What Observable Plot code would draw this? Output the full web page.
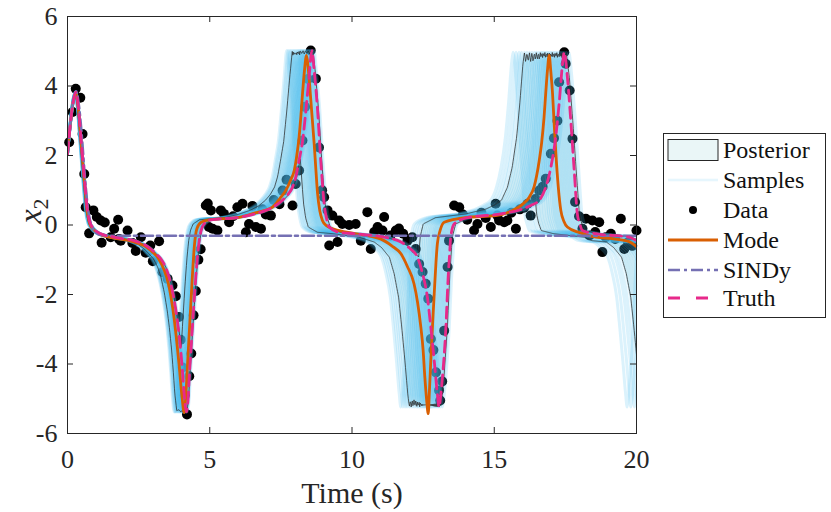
<!DOCTYPE html>
<html><head><meta charset="utf-8">
<script src="https://cdn.jsdelivr.net/npm/d3@7"></script>
<script src="https://cdn.jsdelivr.net/npm/@observablehq/plot@0.6"></script>
<style>
body{margin:0;background:#fff;}
#wrap{position:relative;width:831px;height:512px;font-family:"Liberation Serif","DejaVu Serif",serif;}
#wrap svg{position:absolute;left:0;top:0;}
#wrap svg text{font-family:"Liberation Serif","DejaVu Serif",serif !important;}
</style></head><body><div id="wrap"></div>
<script>
// ---- Truth trajectory (x2); extended a little past 20 s
const truthT = [0,0.1,0.2,0.29,0.38,0.47,0.59,0.7,0.8,0.88,1.0,1.11,1.64,2.34,2.7,2.93,3.1,3.28,3.45,3.57,3.7,3.81,3.9,3.98,4.05,4.1,4.18,4.24,4.28,4.34,4.39,4.45,4.51,4.57,4.63,4.7,4.8,5.04,6.03,6.5,6.97,7.3,7.56,7.75,7.91,8.03,8.14,8.26,8.38,8.49,8.59,8.67,8.79,8.9,8.96,9.02,9.1,9.2,9.55,10.13,11.13,11.72,12.0,12.3,12.48,12.65,12.77,12.89,13.0,13.06,13.12,13.18,13.3,13.38,13.43,13.47,13.59,14.06,15.23,15.99,16.3,16.58,16.81,16.99,17.16,17.28,17.4,17.46,17.57,17.69,17.81,17.92,18.0,18.1,18.57,19.74,20.03,20.3,20.59,20.87,21.17,21.35,21.52,21.64,21.76,21.87,21.93,21.99,22.05,22.17,22.25,22.3,22.34,22.46,22.93];
const truthV = [2.05,2.9,3.55,3.82,3.4,2.53,1.38,0.42,0.05,-0.06,-0.17,-0.23,-0.35,-0.45,-0.56,-0.69,-0.82,-0.97,-1.22,-1.5,-1.95,-2.46,-3.0,-3.61,-4.3,-4.86,-5.38,-5.0,-4.38,-3.6,-2.94,-2.2,-1.5,-0.9,-0.45,-0.15,0.03,0.15,0.22,0.3,0.42,0.55,0.71,0.88,1.09,1.4,1.86,2.4,3.3,4.25,5.02,4.45,3.3,1.86,1.2,0.61,0.2,-0.06,-0.21,-0.25,-0.35,-0.49,-0.65,-0.93,-1.4,-2.08,-2.94,-3.9,-4.86,-5.24,-4.9,-4.38,-2.94,-1.5,-0.85,-0.35,0.03,0.21,0.32,0.46,0.57,0.71,1.09,1.66,2.53,3.49,4.64,4.97,4.25,3.0,1.57,0.32,0.05,-0.16,-0.25,-0.35,-0.45,-0.47,-0.49,-0.65,-0.93,-1.4,-2.08,-2.94,-3.9,-4.86,-5.24,-4.9,-4.38,-2.94,-1.5,-0.85,-0.35,0.03,0.2];

// ---- Posterior mode
const modeT = [0,0.1,0.2,0.29,0.38,0.47,0.59,0.7,0.8,0.9,1.1,1.6,2.3,2.7,2.9,3.2,3.4,3.55,3.7,3.82,3.92,4.02,4.1,4.16,4.22,4.3,4.38,4.46,4.55,4.7,5.0,6.03,6.6,7.2,7.5,7.67,7.85,7.97,8.06,8.14,8.2,8.26,8.33,8.4,8.45,8.49,8.58,8.67,8.73,8.79,8.87,8.96,9.1,9.55,10.1,11.0,11.4,11.72,11.95,12.18,12.3,12.42,12.5,12.56,12.62,12.68,12.72,12.77,12.83,12.89,12.95,13.0,13.1,13.24,14.06,15.05,15.6,16.0,16.23,16.4,16.58,16.67,16.75,16.81,16.87,16.93,16.99,17.05,17.1,17.16,17.25,17.34,17.45,17.57,18.0,18.57,19.2,19.74,20.05];
const modeV = [2.05,2.9,3.55,3.8,3.35,2.45,1.3,0.35,0.0,-0.12,-0.25,-0.37,-0.48,-0.6,-0.72,-0.97,-1.3,-1.7,-2.4,-3.2,-4.0,-4.9,-5.4,-4.9,-4.0,-2.8,-1.6,-0.6,-0.1,0.08,0.15,0.22,0.35,0.51,0.8,0.99,1.3,1.57,2.0,2.53,3.1,3.77,4.45,4.88,4.6,4.25,3.3,2.34,1.6,0.9,0.4,0.13,-0.02,-0.16,-0.25,-0.4,-0.6,-0.83,-1.2,-1.69,-2.2,-2.94,-3.6,-4.38,-5.0,-5.43,-4.8,-3.9,-2.9,-1.98,-1.1,-0.54,-0.15,0.08,0.22,0.27,0.4,0.6,0.8,1.1,1.85,2.4,3.1,3.8,4.45,4.88,4.4,3.77,3.0,2.14,1.1,0.42,0.1,-0.06,-0.22,-0.35,-0.4,-0.48,-0.66];

// ---- SINDy model
const sindyT = [0,0.1,0.2,0.3,0.4,0.5,0.6,0.7,0.8,0.9,1.0,1.2,1.5,20];
const sindyV = [2.05,2.9,3.55,3.85,3.45,2.6,1.5,0.6,0.1,-0.12,-0.22,-0.29,-0.31,-0.31];

// ---- Posterior samples: each sample follows the truth shape at its own period ratio
const sampleScales = [0.897,0.903,0.909,0.914,0.92,0.925,0.93,0.935,0.94,0.944,0.948,0.952,0.955,0.958,0.961,0.964,0.967,0.97,0.973,0.976,0.979,0.982,0.985,0.988,0.991,0.994,0.997,1.0,1.004,1.009];
const posteriorRange = [0.918, 1.004];

// ---- Noisy data
const dataT = [0.06,0.18,0.29,0.45,0.53,0.59,0.64,0.76,0.91,1.03,1.17,1.2,1.31,1.52,1.64,1.78,1.81,1.87,2.11,2.28,2.4,2.58,2.75,2.81,2.91,3.0,3.22,3.34,3.52,3.69,3.81,3.92,3.98,4.05,4.12,4.2,4.28,4.35,4.43,4.51,4.6,4.68,4.86,4.93,4.97,5.04,5.1,5.27,5.39,5.5,5.68,5.82,5.97,6.15,6.27,6.38,6.5,6.62,6.8,6.85,6.97,7.15,7.25,7.45,7.56,7.7,7.91,8.02,8.14,8.26,8.35,8.45,8.55,8.73,8.84,8.95,9.02,9.14,9.2,9.31,9.49,9.55,9.66,9.9,10.13,10.31,10.54,10.66,10.78,10.9,11.07,11.13,11.35,11.54,11.65,11.8,11.95,12.12,12.24,12.36,12.48,12.59,12.68,12.77,12.86,12.95,13.06,13.1,13.17,13.24,13.36,13.41,13.59,13.77,13.9,14.05,14.29,14.41,14.55,14.7,14.88,15.05,15.11,15.17,15.35,15.46,15.6,15.76,15.9,16.05,16.17,16.28,16.45,16.58,16.7,16.81,16.99,17.1,17.22,17.28,17.46,17.51,17.65,17.75,17.84,17.98,18.1,18.22,18.35,18.45,18.55,18.69,18.8,18.92,19.1,19.25,19.45,19.57,19.7,19.85,20.0];
const dataV = [2.38,3.25,3.92,3.66,2.62,1.47,0.51,-0.24,0.42,0.23,0.13,-0.51,0.07,-0.35,-0.11,0.15,-0.4,-0.45,-0.16,-0.52,-0.75,-0.35,-0.8,-0.78,-0.59,-1.04,-0.47,-1.36,-1.55,-1.74,-2.05,-2.65,-3.3,-4.1,-4.9,-5.45,-4.35,-3.7,-2.6,-1.9,-1.0,-0.7,0.56,0.62,-0.06,0.42,-0.11,-0.16,0.42,0.32,0.08,0.25,0.51,0.61,-0.21,0.03,0.55,-0.06,-0.11,0.45,0.3,0.27,0.72,0.6,0.99,1.3,0.56,1.18,1.57,2.43,3.4,4.2,5.02,4.21,2.23,1.0,0.8,0.42,-0.59,0.27,-0.49,0.13,0.03,0.0,0.03,-0.45,0.37,-0.69,-0.2,-0.06,-0.16,0.23,-0.3,-0.16,-0.1,-0.25,-0.45,-0.35,-0.69,-1.12,-1.35,-1.69,-2.12,-3.28,-3.6,-4.24,-4.76,-5.05,-4.5,-3.04,-1.21,-0.45,0.56,0.51,0.3,0.15,-0.16,0.03,0.35,0.2,-0.06,0.61,0.27,0.13,0.08,0.13,0.35,-0.11,0.45,0.5,0.61,0.27,0.75,0.99,1.1,1.33,2.05,2.5,3.0,4.11,4.97,4.64,3.87,2.48,0.66,0.25,-0.11,0.18,-0.3,0.13,-0.2,0.08,-0.78,-0.35,-0.25,-0.4,0.18,-0.69,-0.5,-0.6,-0.16];

const xTicks = [0,5,10,15,20];
const yTicks = [-6,-4,-2,0,2,4,6];

// ---- Colours / styles
const C = {mode:"#D95F02", sindy:"#7570B3", truth:"#E7298A", sample:"#4DBEEE", postFill:"#eaf6f7", postEdge:"#2a2a2a", data:"#000"};
const FONT = '"Liberation Serif", "DejaVu Serif", "Times New Roman", serif';
const W=831, H=512, mL=67, mR=195, mT=16, mB=79;
const iw = W-mL-mR, ih = H-mT-mB;

// ---- Build tables
const zip = (ts, vs) => ts.map((t,i)=>({t, v:vs[i]}));
const truth = zip(truthT, truthV).filter(d=>d.t<=20.3);
const mode = zip(modeT, modeV);
const sindy = zip(sindyT, sindyV);
const data = zip(dataT, dataV);
const samples = sampleScales.flatMap((s,k)=> truthT.map((t,i)=>({k, t:t*s, v:truthV[i]})));
function lerp(ts, vs, t){
  if (t<=ts[0]) return vs[0];
  const i = d3.bisectRight(ts, t);
  if (i>=ts.length) return vs[vs.length-1];
  const f=(t-ts[i-1])/(ts[i]-ts[i-1]);
  return vs[i-1]+f*(vs[i]-vs[i-1]);
}
const core = sampleScales.filter(s=>s>=posteriorRange[0] && s<=posteriorRange[1]);
const post = d3.range(0, 20.0001, 0.02).map(t=>{
  const vals = core.map(s=>lerp(truthT, truthV, t/s));
  return {t, lo:d3.min(vals), hi:d3.max(vals)};
});

const plot = Plot.plot({
  width: W, height: H,
  marginLeft: mL, marginRight: mR, marginTop: mT, marginBottom: mB,
  style: {fontFamily: FONT, background: "transparent", overflow: "visible"},
  x: {domain:[0,20], label:null},
  y: {domain:[-6,6], label:null},
  marks: [
    Plot.areaY(post, {x:"t", y1:"lo", y2:"hi", fill:C.postFill, curve:"linear"}),
    Plot.dot(data, {x:"t", y:"v", r:5, fill:C.data, stroke:"none"}),
    Plot.line(samples, {x:"t", y:"v", z:"k", stroke:C.sample, strokeOpacity:0.2, strokeWidth:3, curve:"monotone-x", clip:true}),
    Plot.line(post, {x:"t", y:"hi", stroke:C.postEdge, strokeWidth:0.75}),
    Plot.line(post, {x:"t", y:"lo", stroke:C.postEdge, strokeWidth:0.75}),
    Plot.line(mode, {x:"t", y:"v", stroke:C.mode, strokeWidth:2.8, curve:"monotone-x", clip:true}),
    Plot.line(sindy, {x:"t", y:"v", stroke:C.sindy, strokeWidth:2.6, strokeDasharray:"12,4,3,4", curve:"monotone-x", clip:true}),
    Plot.line(truth, {x:"t", y:"v", stroke:C.truth, strokeWidth:2.8, strokeDasharray:"11,6", curve:"monotone-x", clip:true}),
    Plot.frame({stroke:"#262626", strokeWidth:1}),
    Plot.tickX(xTicks.slice(1,-1), {x:d=>d, stroke:"#262626", insetTop: ih-6}),
    Plot.tickX(xTicks.slice(1,-1), {x:d=>d, stroke:"#262626", insetBottom: ih-6}),
    Plot.tickY(yTicks.slice(1,-1), {y:d=>d, stroke:"#262626", insetRight: iw-6}),
    Plot.tickY(yTicks.slice(1,-1), {y:d=>d, stroke:"#262626", insetLeft: iw-6}),
    Plot.axisX(xTicks, {tickSize:0, tickPadding:16, fontSize:26, fill:"#262626", label:null, tickFormat:d=>String(d)}),
    Plot.axisY(yTicks, {tickSize:0, tickPadding:10, fontSize:26, fill:"#262626", label:null, tickFormat:d=>String(d)})
  ]
});
document.getElementById("wrap").appendChild(plot);

// axis labels
const svg = d3.select(plot);
svg.append("text").attr("x", 352).attr("y", 503).attr("text-anchor","middle")
  .style("font-family", FONT).attr("font-size", 30).attr("fill","#262626").text("Time (s)");
const yl = svg.append("text").attr("transform","translate(41,211) rotate(-90)").attr("text-anchor","middle")
  .style("font-family", FONT).attr("font-size", 32).attr("fill","#262626");
yl.append("tspan").attr("font-style","italic").text("x");
yl.append("tspan").attr("font-size", 22).attr("dy", 7).text("2");

// legend (drawn beside the plot)
const lg = d3.select("#wrap").append("svg").attr("width", W).attr("height", H).style("pointer-events","none");
const LX = 663, LY = 133, LW = 162, LH = 184;
lg.append("rect").attr("x", LX+0.5).attr("y", LY+0.5).attr("width", LW).attr("height", LH).attr("fill","#fff").attr("stroke","#262626").attr("stroke-width",1);
const rows = [
  {name:"Posterior", y:150}, {name:"Samples", y:180}, {name:"Data", y:210},
  {name:"Mode", y:240}, {name:"SINDy", y:270}, {name:"Truth", y:298}
];
const sx0 = 668, sx1 = 718;
rows.forEach(r=>{
  lg.append("text").attr("x", 723).attr("y", r.y+8).style("font-family", FONT).attr("font-size", 24).attr("fill","#111").text(r.name);
});
lg.append("rect").attr("x", sx0).attr("y", 139.5).attr("width", sx1-sx0).attr("height", 21).attr("fill", C.postFill).attr("stroke", "#262626").attr("stroke-width", 1);
lg.append("line").attr("x1", sx0).attr("x2", sx1).attr("y1", 180).attr("y2", 180).attr("stroke", C.sample).attr("stroke-opacity", 0.14).attr("stroke-width", 2.6);
lg.append("circle").attr("cx", (sx0+sx1)/2).attr("cy", 210).attr("r", 4).attr("fill", "#000");
lg.append("line").attr("x1", sx0).attr("x2", sx1).attr("y1", 240).attr("y2", 240).attr("stroke", C.mode).attr("stroke-width", 2.8);
lg.append("line").attr("x1", sx0).attr("x2", sx1).attr("y1", 270).attr("y2", 270).attr("stroke", C.sindy).attr("stroke-width", 2.6).attr("stroke-dasharray","12,4,3,4");
lg.append("line").attr("x1", sx0).attr("x2", sx1).attr("y1", 298).attr("y2", 298).attr("stroke", C.truth).attr("stroke-width", 2.8).attr("stroke-dasharray","12,16");
</script></body></html>
